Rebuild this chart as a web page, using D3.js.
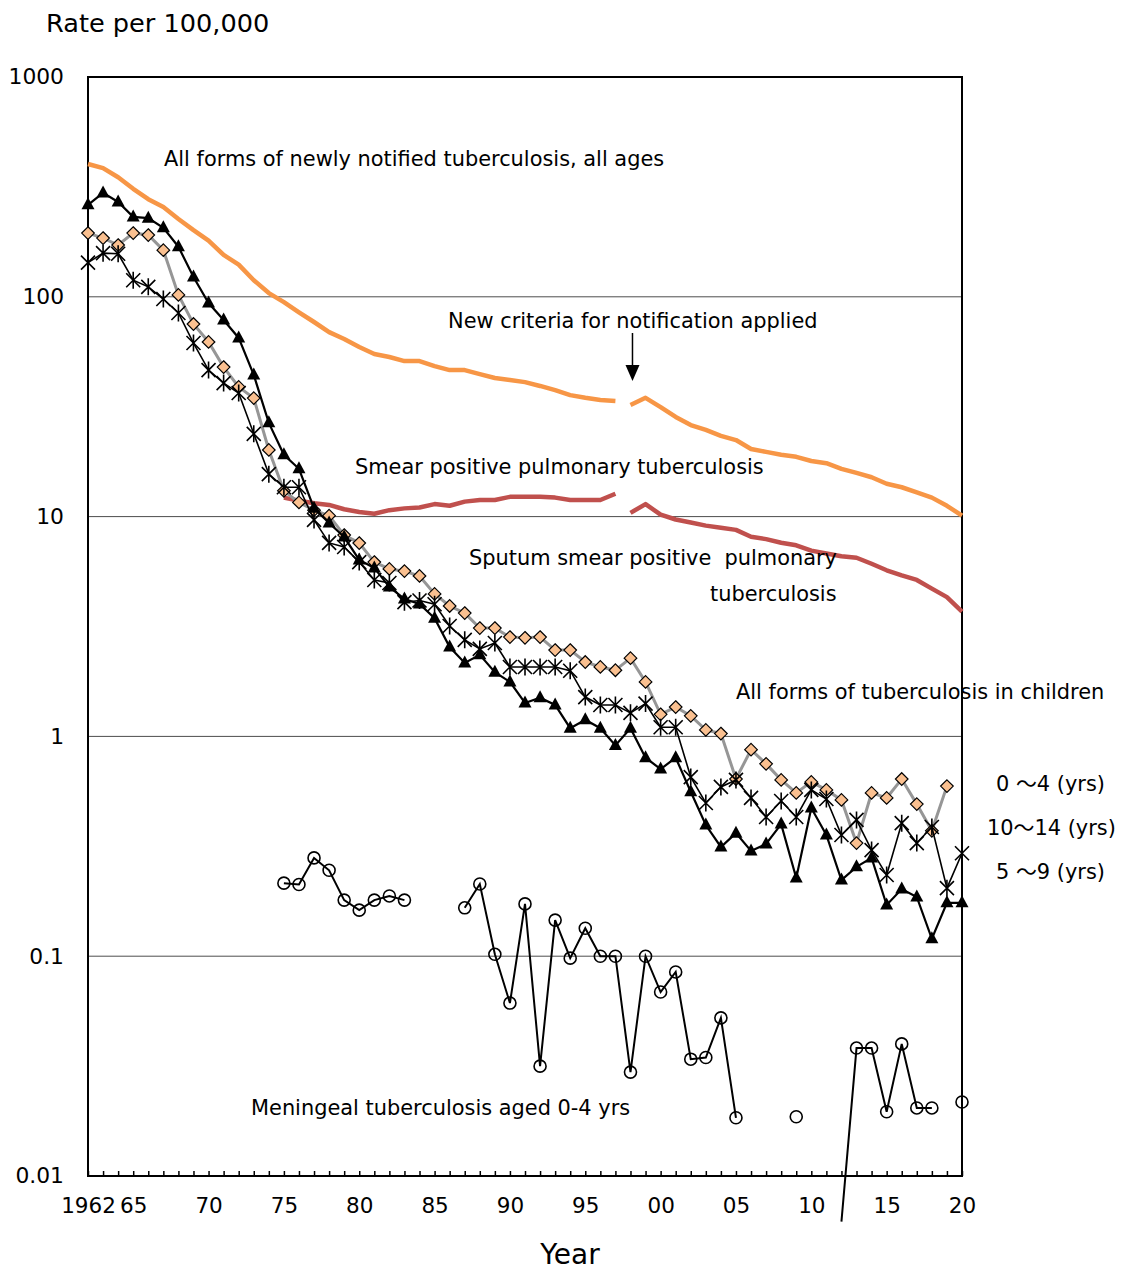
<!DOCTYPE html>
<html><head><meta charset="utf-8">
<script src="https://cdn.jsdelivr.net/npm/d3@7"></script>
<style>
body{margin:0;background:#fff}
svg{display:block}
text{font-family:"DejaVu Sans",Verdana,sans-serif;fill:#000}
</style>
</head><body>
<svg id="chart" width="1123" height="1270"></svg>
<script>
// ---------------- DATA ----------------
const years = [1962,1963,1964,1965,1966,1967,1968,1969,1970,1971,1972,1973,1974,1975,1976,1977,1978,1979,1980,1981,
  1982,1983,1984,1985,1986,1987,1988,1989,1990,1991,1992,1993,1994,1995,1996,1997,1998,1999,2000,2001,
  2002,2003,2004,2005,2006,2007,2008,2009,2010,2011,2012,2013,2014,2015,2016,2017,2018,2019,2020];

// All forms of newly notified TB, all ages (old criteria 1962-1997, new criteria 1998-2020)
const allFormsOldYears = years.slice(0, 36);
const allFormsOld = [402,385,350,310,278,256,226,201,180,155,140,119,104,94.5,85,76.8,69.1,64.3,59.1,54.9,
  53.2,51.0,51.0,48.4,46.4,46.4,44.5,42.7,41.8,40.9,39.3,37.6,35.7,34.7,33.9,33.6];
const allFormsNewYears = years.slice(36);
const allFormsNew = [32.2,34.7,31.5,28.4,26.1,24.8,23.3,22.3,20.3,19.7,19.1,18.7,17.9,17.5,16.5,15.8,15.1,14.1,13.6,12.9,12.2,11.2,10.1];

// Smear positive pulmonary TB (1975-1997) and sputum smear positive pulmonary TB (1998-2020)
const smearOldYears = years.slice(13, 36);
const smearOld = [12.2,11.8,11.5,11.3,10.8,10.5,10.3,10.7,10.9,11.0,11.4,11.2,11.7,11.9,11.9,12.3,12.3,12.3,12.2,11.9,11.9,11.9,12.7];
const smearNewYears = years.slice(36);
const smearNew = [10.4,11.4,10.2,9.7,9.4,9.1,8.9,8.7,8.1,7.9,7.6,7.4,7.0,6.8,6.6,6.5,6.1,5.7,5.4,5.15,4.7,4.3,3.7];

// All forms of TB in children
const age0to4 = [195,185,172,195,191,163,102,75.2,62.3,47.9,38.9,34.6,20.1,13.1,11.6,10.7,10.1,8.24,7.58,6.21,
  5.78,5.65,5.37,4.45,3.92,3.64,3.11,3.11,2.83,2.81,2.83,2.47,2.47,2.18,2.07,2.0,2.27,1.77,1.26,1.36,
  1.24,1.07,1.03,0.64,0.87,0.75,0.634,0.553,0.621,0.571,0.514,0.327,0.553,0.525,0.64,0.492,0.372,0.594,null];
const age5to9 = [262,297,270,231,228,206,169,123,93.7,78.4,65.0,44.1,26.7,19.1,16.5,10.9,9.35,8.07,6.35,5.84,
  4.78,4.22,4.0,3.45,2.55,2.16,2.35,1.96,1.77,1.42,1.50,1.39,1.09,1.19,1.09,0.91,1.09,0.80,0.71,0.80,
  0.56,0.395,0.314,0.363,0.301,0.324,0.399,0.227,0.472,0.356,0.222,0.255,0.280,0.171,0.202,0.186,0.12,0.175,0.175];
const age10to14 = [143,158,157,119,111,97.7,84.4,61.6,46.4,40.5,36.5,23.8,15.6,13.6,13.6,9.66,7.59,7.27,6.21,5.15,
  4.99,4.08,4.15,3.99,3.18,2.75,2.50,2.66,2.07,2.07,2.07,2.07,1.99,1.51,1.39,1.39,1.28,1.41,1.10,1.10,
  0.653,0.498,0.589,0.634,0.525,0.430,0.508,0.43,0.571,0.519,0.356,0.417,0.304,0.234,0.403,0.327,0.387,0.204,0.294];

// Meningeal TB aged 0-4 (null = not plotted; 2012 drawn below the axis floor)
const meningeal = [null,null,null,null,null,null,null,null,null,null,null,null,null,0.215,0.212,0.280,0.246,0.180,0.162,0.180,
  0.188,0.180,null,null,null,0.166,0.213,0.102,0.0612,0.173,0.0316,0.146,0.098,0.134,0.1,0.1,0.0297,0.1,0.0687,0.0848,
  0.034,0.0346,0.0524,0.0184,null,null,null,0.0186,null,null,0.0062,0.0382,0.0382,0.0196,0.0399,0.0204,0.0204,null,0.0217];

const xTickYears = [1962,1965,1970,1975,1980,1985,1990,1995,2000,2005,2010,2015,2020];
const xTickLabels = ["1962","65","70","75","80","85","90","95","00","05","10","15","20"];
const yTickValues = [1000,100,10,1,0.1,0.01];
const yTickLabels = ["1000","100","10","1","0.1","0.01"];

// ---------------- CHART ----------------
const svg = d3.select("#chart");
const L = 88, R = 962, T = 77, B = 1176;
const x = d3.scaleLinear().domain([1962, 2020]).range([L, R]);
const y = d3.scaleLog().domain([0.01, 1000]).range([B, T]);

const pts = (ys, vs) => ys.map((yr, i) => ({yr, v: vs[i]}));
const line = d3.line().defined(d => d.v != null).x(d => x(d.yr)).y(d => y(d.v));

// grid lines
svg.append("g").selectAll("line").data(yTickValues.filter(v => v < 1000 && v > 0.01)).join("line")
  .attr("x1", L).attr("x2", R).attr("y1", d => y(d)).attr("y2", d => y(d))
  .attr("stroke", "#4d4d4d").attr("stroke-width", 1);

// minor year ticks (inside, upward)
svg.append("g").attr("transform", `translate(0,${B})`)
  .call(d3.axisBottom(x).tickValues(years).tickSizeInner(-5).tickSizeOuter(0).tickFormat(""))
  .call(g => g.select(".domain").remove())
  .call(g => g.selectAll(".tick line").attr("stroke", "#000").attr("stroke-width", 1.5));

// x labels
svg.append("g").attr("transform", `translate(0,${B})`)
  .call(d3.axisBottom(x).tickValues(xTickYears).tickSize(0).tickPadding(22).tickFormat((d, i) => xTickLabels[i]))
  .call(g => g.select(".domain").remove())
  .call(g => g.selectAll("text").attr("font-size", 21.5).attr("font-family", '"DejaVu Sans",sans-serif').attr("fill", "#000"));

// y labels
svg.append("g").attr("transform", `translate(${L},0)`)
  .call(d3.axisLeft(y).tickValues(yTickValues).tickSize(0).tickPadding(24).tickFormat((d, i) => yTickLabels[i]))
  .call(g => g.select(".domain").remove())
  .call(g => g.selectAll("text").attr("font-size", 21.8).attr("font-family", '"DejaVu Sans",sans-serif').attr("fill", "#000"));

// plot border
svg.append("rect").attr("x", L).attr("y", T).attr("width", R - L).attr("height", B - T)
  .attr("fill", "none").attr("stroke", "#000").attr("stroke-width", 2);

// adult series
const thick = (data, color) => svg.append("path").datum(data).attr("d", line)
  .attr("fill", "none").attr("stroke", color).attr("stroke-width", 4.5).attr("stroke-linejoin", "round");
thick(pts(allFormsOldYears, allFormsOld), "#F79646");
thick(pts(allFormsNewYears, allFormsNew), "#F79646");
thick(pts(smearOldYears, smearOld), "#C0504D");
thick(pts(smearNewYears, smearNew), "#C0504D");

// children series
const d04 = pts(years, age0to4), d59 = pts(years, age5to9), d1014 = pts(years, age10to14), dMen = pts(years, meningeal);
const inRange = d => d.v != null && d.v >= 0.01;

// 0-4: grey line, diamonds
svg.append("path").datum(d04).attr("d", line).attr("fill", "none").attr("stroke", "#969696").attr("stroke-width", 3);
svg.append("g").selectAll("path").data(d04.filter(inRange)).join("path")
  .attr("d", "M0,-6.3L6.3,0L0,6.3L-6.3,0Z")
  .attr("transform", d => `translate(${x(d.yr)},${y(d.v)})`)
  .attr("fill", "#FAC090").attr("stroke", "#000").attr("stroke-width", 1.2);

// 5-9: black line, triangles
svg.append("path").datum(d59).attr("d", line).attr("fill", "none").attr("stroke", "#000").attr("stroke-width", 2.2);
svg.append("g").selectAll("path").data(d59.filter(inRange)).join("path")
  .attr("d", "M0,-7.5L6.5,4.5L-6.5,4.5Z")
  .attr("transform", d => `translate(${x(d.yr)},${y(d.v)})`)
  .attr("fill", "#000");

// 10-14: black line, star markers
svg.append("path").datum(d1014).attr("d", line).attr("fill", "none").attr("stroke", "#000").attr("stroke-width", 1.6);
svg.append("g").selectAll("path").data(d1014.filter(inRange)).join("path")
  .attr("d", "M-7,-7L7,7M-7,7L7,-7M0,-8.5L0,8.5")
  .attr("transform", d => `translate(${x(d.yr)},${y(d.v)})`)
  .attr("fill", "none").attr("stroke", "#000").attr("stroke-width", 1.6);

// meningeal: black line, open circles
svg.append("path").datum(dMen).attr("d", line).attr("fill", "none").attr("stroke", "#000").attr("stroke-width", 2);
svg.append("g").selectAll("circle").data(dMen.filter(inRange)).join("circle")
  .attr("cx", d => x(d.yr)).attr("cy", d => y(d.v)).attr("r", 6)
  .attr("fill", "none").attr("stroke", "#000").attr("stroke-width", 1.6);

// arrow for new criteria
const ax = x(1998) + 2;
svg.append("line").attr("x1", ax).attr("x2", ax).attr("y1", 333).attr("y2", 367).attr("stroke", "#000").attr("stroke-width", 1.5);
svg.append("path").attr("d", `M${ax - 7},365L${ax + 7},365L${ax},381Z`).attr("fill", "#000");

// texts
const labels = [
  {t: ["Rate per 100,000"], x: 46, y: 23, s: 25.6},
  {t: ["All forms of newly notified tuberculosis, all ages"], x: 164, y: 158, s: 20.9},
  {t: ["New criteria for notification applied"], x: 448, y: 320, s: 20.9},
  {t: ["Smear positive pulmonary tuberculosis"], x: 355, y: 466, s: 20.9},
  {t: ["Sputum smear positive  pulmonary"], x: 469, y: 557, s: 20.9},
  {t: ["tuberculosis"], x: 710, y: 593, s: 20.9},
  {t: ["All forms of tuberculosis in children"], x: 736, y: 691, s: 20.9},
  {t: ["0 ", "\uFF5E", "4 (yrs)"], x: 996, y: 783, s: 20.9},
  {t: ["10", "\uFF5E", "14 (yrs)"], x: 987, y: 827, s: 20.9},
  {t: ["5 ", "\uFF5E", "9 (yrs)"], x: 996, y: 871, s: 20.9},
  {t: ["Meningeal tuberculosis aged 0-4 yrs"], x: 251, y: 1107, s: 20.9},
  {t: ["Year"], x: 570, y: 1254, s: 28, a: "middle"}
];
const tx = svg.append("g").selectAll("text").data(labels).join("text")
  .attr("x", d => d.x).attr("y", d => d.y).attr("dy", "0.36em")
  .attr("font-size", d => d.s).attr("text-anchor", d => d.a || "start")
  .attr("xml:space", "preserve").style("white-space", "pre");
tx.each(function(d) {
  const el = d3.select(this);
  d.t.forEach(part => {
    const sp = el.append("tspan").text(part);
    if (part === "\uFF5E") sp.attr("font-family", '"Noto Sans CJK JP","Noto Sans CJK SC",sans-serif');
  });
});
</script>
</body></html>
